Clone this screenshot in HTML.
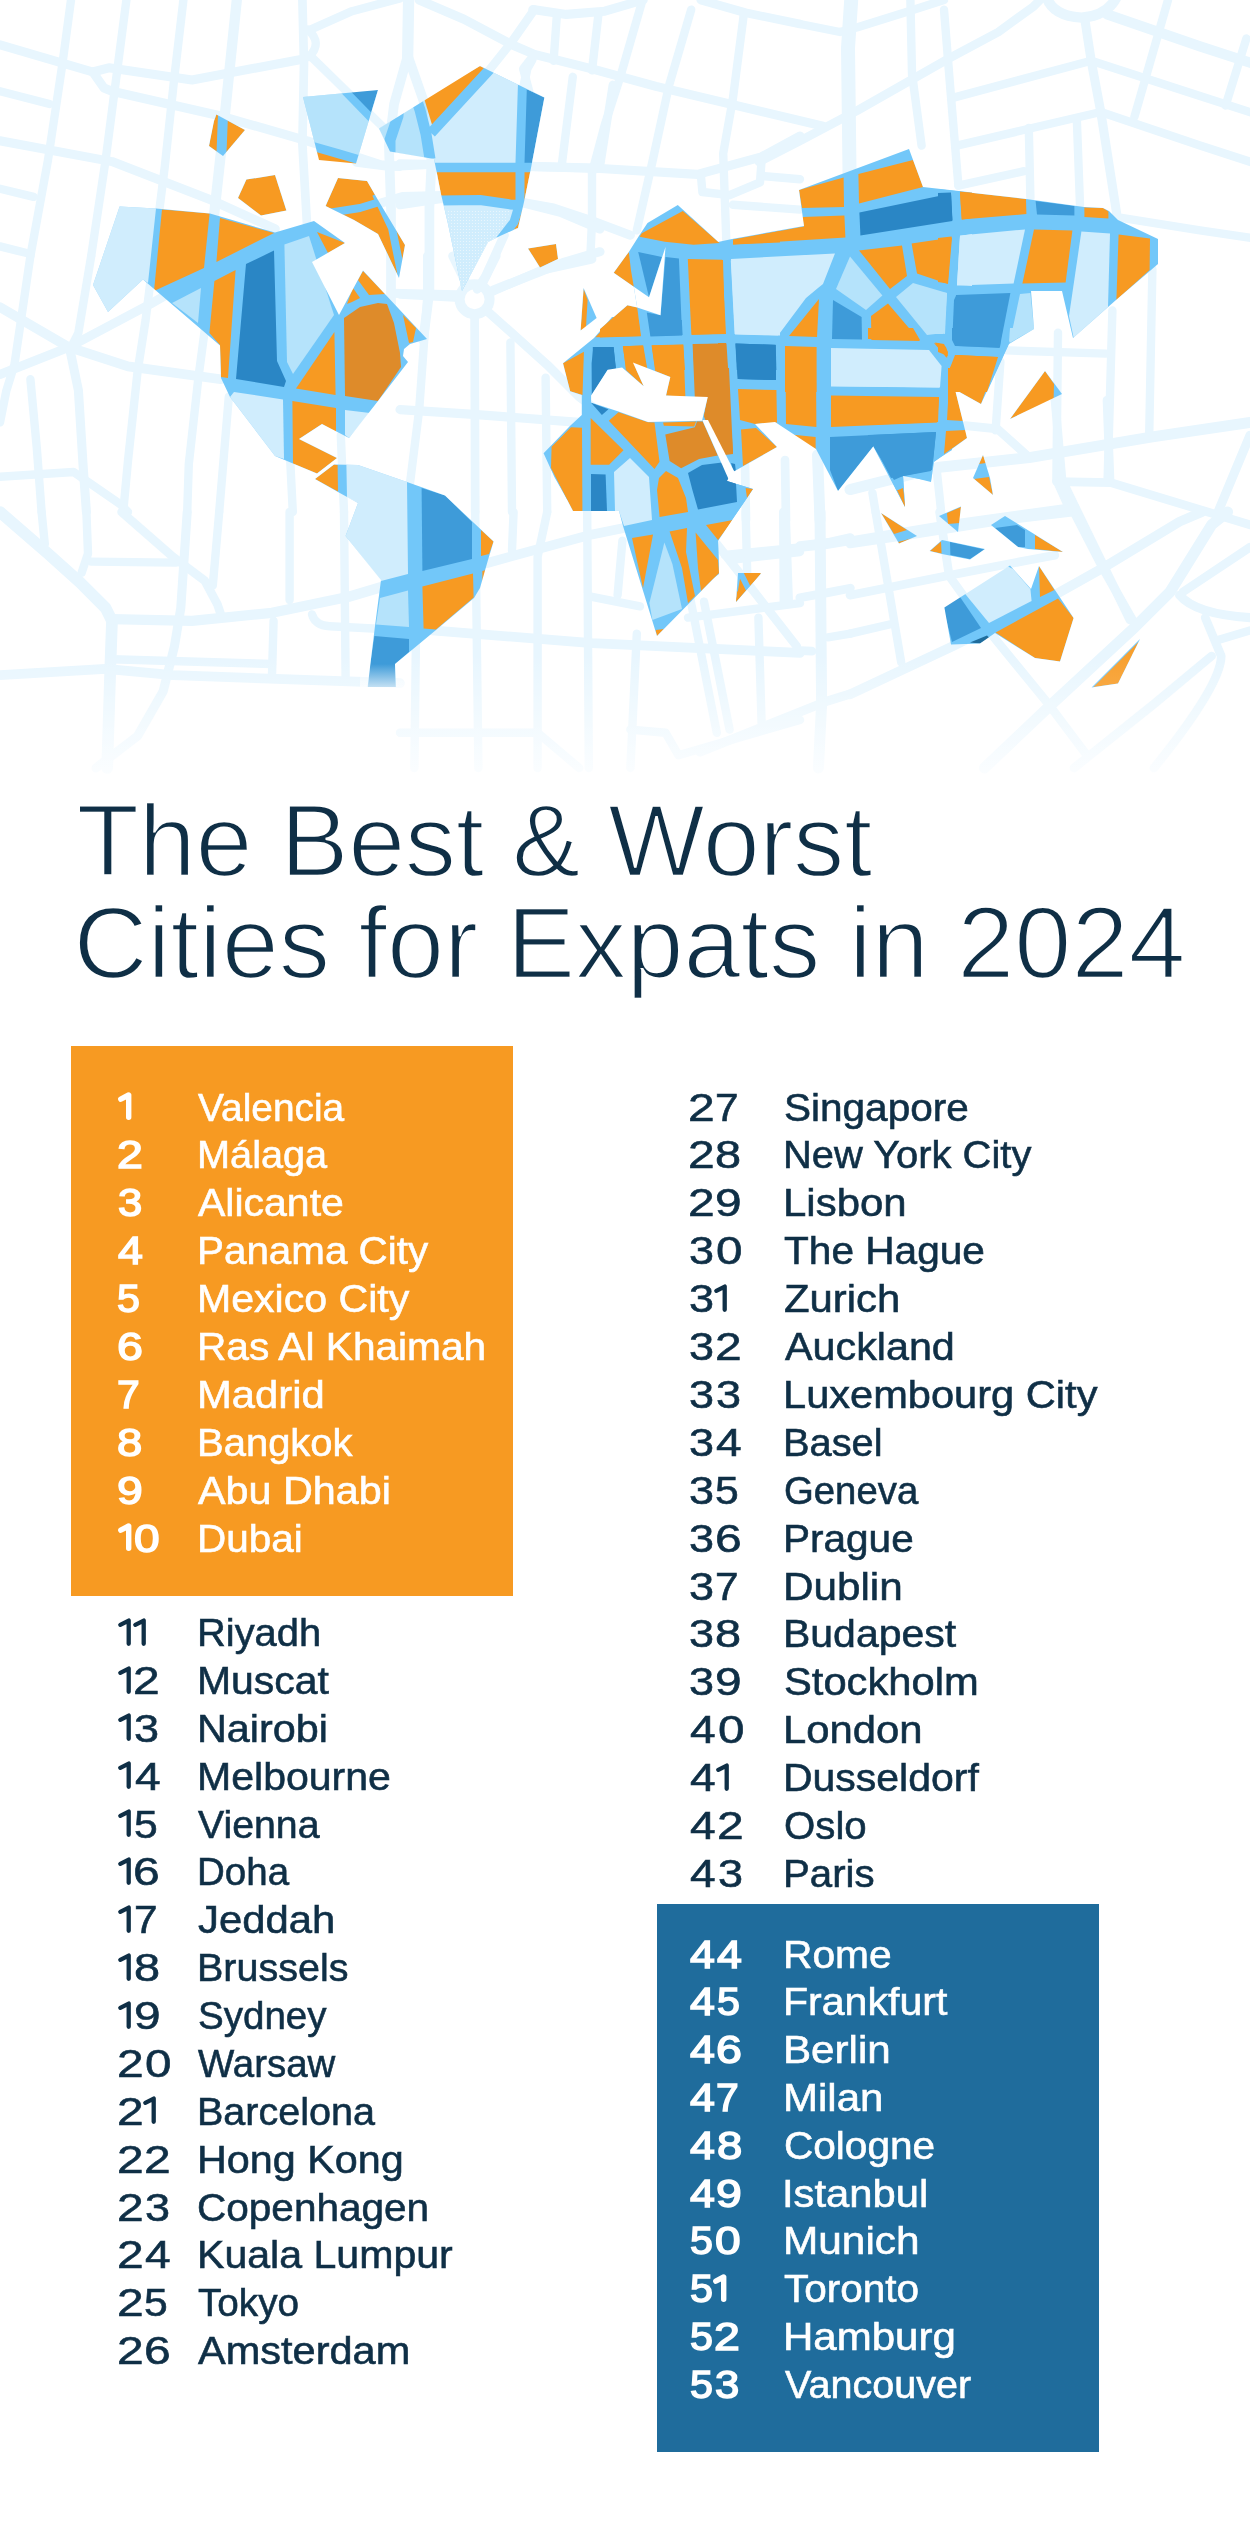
<!DOCTYPE html>
<html><head><meta charset="utf-8"><title>The Best &amp; Worst Cities for Expats in 2024</title>
<style>
html,body{margin:0;padding:0;background:#fff;}
body{width:1250px;height:2521px;position:relative;overflow:hidden;font-family:"Liberation Sans",sans-serif;}
#map{position:absolute;left:0;top:0;width:1250px;height:800px;}
#map svg{display:block}
.t{position:absolute;white-space:nowrap;font-size:102.6px;line-height:100px;color:#0f2f46;-webkit-text-stroke:2.4px #fff;transform-origin:0 0;}
.box{position:absolute;}
.r{position:absolute;left:0;width:1250px;height:48px;font-size:39.6px;line-height:48px;white-space:nowrap;}
.r span{position:absolute;top:0;transform-origin:0 0;display:block;}
.one{position:absolute;display:block;overflow:visible}
.d{color:#0f2f46;}
.w{color:#fff;}
.d .n,.d .c,.w .c{-webkit-text-stroke:0.6px currentColor;}
.w .n{-webkit-text-stroke:1.5px currentColor;}
</style></head><body>
<div id="map"><svg width="1250" height="800" viewBox="0 0 1250 800">
<defs>
<mask id="land" maskUnits="userSpaceOnUse" x="0" y="0" width="1250" height="800">
<g fill="#fff"><polygon points="379.0,128.6 480.0,66.0 544.4,97.6 531.0,168.0 524.0,202.0 518.0,228.0 500.0,236.0 488.0,242.0 462.0,291.0 448.0,224.0 441.0,194.0 434.0,159.0 390.0,151.6"/><polygon points="216.4,114.4 245.0,130.0 223.0,156.0 209.0,146.0 214.0,121.0"/><polygon points="303.0,97.0 378.0,90.0 356.0,163.4 319.0,160.0"/><polygon points="246.4,179.6 275.0,175.0 286.4,210.4 261.0,215.6 238.0,198.0"/><polygon points="338.0,178.0 367.0,181.0 378.0,200.0 405.0,245.0 399.0,278.0 378.0,234.0 354.0,220.0 325.6,206.0"/><polygon points="119.6,206.6 156.0,208.6 210.0,213.4 275.0,232.6 314.0,221.0 345.0,243.0 312.0,262.0 339.0,315.0 363.0,270.6 427.0,339.0 410.0,344.0 404.0,349.0 403.0,356.0 408.0,362.0 378.0,401.0 349.0,438.0 322.0,424.0 299.0,439.0 337.0,458.0 317.0,473.6 275.0,456.0 230.0,397.0 221.0,378.0 220.0,345.4 143.0,279.4 108.0,312.0 93.0,285.0"/><polygon points="315.0,479.0 334.0,464.4 358.0,465.0 407.0,482.0 445.0,495.6 493.6,541.6 488.0,560.0 480.0,588.0 474.0,598.0 436.0,630.0 395.0,664.0 396.0,687.0 367.6,687.0 375.0,626.0 381.0,580.0 345.6,536.0 358.0,503.0 338.0,492.0"/><polygon points="677.8,205.1 719.5,243.0 780.0,231.0 780.0,370.0 600.0,370.0 600.0,329.0 627.4,305.2 637.2,307.4 633.8,286.8 613.7,272.8 628.8,251.9 638.9,236.1 647.5,223.1"/><polygon points="594.0,338.0 612.0,317.1 720.0,317.1 720.0,500.0 567.4,500.0 554.4,477.0 543.6,453.2 570.2,425.8 581.8,415.0 581.8,394.9 570.2,391.3 563.0,363.2"/><polygon points="528.0,248.4 556.0,244.0 558.0,259.0 540.0,267.4"/><polygon points="583.6,288.0 596.6,318.0 580.6,330.4"/><polygon points="718.0,242.0 732.0,239.0 804.0,226.0 799.0,190.0 909.0,149.0 923.0,187.0 972.0,192.4 972.0,392.0 718.0,392.0"/><polygon points="938.0,189.0 1026.0,199.0 1084.0,207.0 1103.0,208.0 1109.0,211.0 1118.0,220.0 1158.0,239.0 1158.0,264.0 1116.0,300.0 1073.0,338.0 1062.0,291.0 1031.0,291.0 1034.0,329.0 1009.0,344.0 987.0,392.0 938.0,392.0"/><polygon points="698.0,368.0 952.0,368.0 952.0,450.0 933.0,462.0 931.0,482.0 903.0,475.0 905.0,507.0 874.0,445.6 838.0,491.0 816.0,449.0 775.0,422.0 755.0,424.0 777.0,447.0 733.0,472.0 704.4,416.4 708.0,397.0 698.0,396.0"/><polygon points="698.0,416.0 727.0,481.0 753.0,489.0 746.4,499.0 718.0,540.0 719.0,574.0 698.0,590.0"/><polygon points="741.0,573.0 761.0,573.6 736.0,602.0"/><polygon points="868.0,328.0 1016.0,328.0 1010.0,341.0 981.0,404.0 955.0,389.6 967.0,438.0 934.0,462.0 931.0,481.0 903.0,476.0 905.0,507.0 873.0,446.0 868.0,450.0"/><polygon points="1045.0,371.0 1062.0,394.0 1010.0,419.0"/><polygon points="983.0,455.0 990.0,478.0 993.0,495.0 973.0,478.0"/><polygon points="939.0,516.0 961.0,506.4 958.0,532.0"/><polygon points="881.0,513.0 917.0,536.0 899.0,543.6"/><polygon points="929.6,551.0 942.0,540.0 985.0,549.0 970.0,559.6 942.0,554.0"/><polygon points="991.0,525.0 1005.0,516.0 1063.0,552.0 1028.0,549.0 1018.0,547.0"/><polygon points="944.4,607.6 1010.0,565.6 1031.0,589.0 1039.0,566.0 1073.6,618.0 1060.0,661.6 1035.0,658.0 995.0,633.0 980.0,643.6 951.0,644.4"/><polygon points="1091.6,687.6 1140.0,639.0 1118.0,683.6"/><polygon points="562.0,438.0 750.0,438.0 727.0,481.0 753.0,489.0 718.0,541.0 719.0,573.0 657.0,636.0 623.0,526.0 619.0,511.0 573.0,511.0 550.0,467.0"/><polygon points="738.0,573.0 761.0,573.0 736.0,602.0"/></g>
<g fill="#000"><polygon points="665.5,246.9 660.5,315.3 637.2,307.4 633.8,286.8 649.0,297.3"/><polygon points="591.1,395.6 607.7,369.7 622.1,367.5 643.7,386.2 632.9,362.5 670.3,376.9 666.0,395.6 707.8,397.0 703.4,415.0 702.0,420.8 648.0,422.0 618.5,411.4 591.1,402.4"/><polygon points="702.3,420.0 708.0,420.0 734.5,472.0 737.0,484.0 728.5,479.0"/></g>
</mask>
<pattern id="dots" width="3" height="3" patternUnits="userSpaceOnUse"><rect width="3" height="3" fill="#d0edfd"/><circle cx="1.5" cy="1.5" r="0.6" fill="#eef8fe"/></pattern>
<linearGradient id="fade" x1="0" y1="0" x2="0" y2="1"><stop offset="0" stop-color="#fff" stop-opacity="0"/><stop offset="1" stop-color="#fff" stop-opacity="1"/></linearGradient>
<linearGradient id="fade2" x1="0" y1="0" x2="0" y2="1"><stop offset="0" stop-color="#fff" stop-opacity="0"/><stop offset="1" stop-color="#fff" stop-opacity="0.75"/></linearGradient>
<linearGradient id="fade3" x1="0" y1="0" x2="0" y2="1"><stop offset="0" stop-color="#fff" stop-opacity="0"/><stop offset="1" stop-color="#fff" stop-opacity="0.15"/></linearGradient>
</defs>
<rect width="1250" height="800" fill="#fff"/>
<g fill="none" stroke="#e8f6fe" stroke-linecap="round" stroke-linejoin="round"><path stroke-width="8.4" d="M 71.0,0.0 L 62.4,64.0 L 48.0,160.0 L 30.4,256.0"/><path stroke-width="8.4" d="M 126.4,0.0 L 116.8,73.6 L 105.6,160.0 L 91.2,256.0"/><path stroke-width="8.4" d="M 183.4,0.0 L 174.4,76.8 L 164.8,166.4 L 153.6,256.0"/><path stroke-width="10.3" d="M 236.8,0.0 L 228.8,76.8 L 220.8,153.6 L 209.6,256.0"/><path stroke-width="8.7" d="M 302.4,0.0 L 304.0,64.0 L 302.4,144.0 L 308.8,256.0"/><path stroke-width="9.1" d="M 0.0,44.8 L 92.8,72.0 L 108.8,67.8 L 192.0,80.0 L 302.4,59.2"/><path stroke-width="9.1" d="M 92.8,72.0 L 104.0,88.0 L 112.0,91.2 L 217.6,115.2 L 307.2,140.8 L 380.8,164.8 L 400.0,166.4"/><path stroke-width="8.4" d="M 308.8,30.4 L 352.0,11.2 L 400.0,-1.6"/><path stroke-width="8.4" d="M 312.0,57.6 L 384.0,128.0"/><path stroke-width="8.4" d="M 0.0,91.2 L 49.6,104.0"/><path stroke-width="9.1" d="M 0.0,140.8 L 112.0,161.6 L 211.2,200.0 L 275.2,228.8"/><path stroke-width="8.4" d="M 0.0,188.8 L 33.6,196.8"/><path stroke-width="8.4" d="M 0.0,246.4 L 25.6,252.8"/><path stroke-width="8.4" d="M 307.8,29.4 Q 323.2,43.2 308.8,57.0"/><path stroke-width="9.1" d="M 419.2,0.0 L 464.0,19.2 L 512.0,44.8 L 534.4,54.4 L 592.0,68.8 L 656.0,86.4 L 723.2,102.4 L 823.0,126.1"/><path stroke-width="9.1" d="M 532.8,9.6 L 566.4,14.4 L 604.8,11.2 L 643.2,0.0"/><path stroke-width="8.7" d="M 534.4,9.6 L 512.0,41.6 L 486.4,73.6 L 435.2,128.0"/><path stroke-width="8.4" d="M 556.8,16.0 L 553.6,60.8"/><path stroke-width="8.4" d="M 598.4,14.4 L 592.0,70.4"/><path stroke-width="8.4" d="M 641.6,3.2 L 620.8,75.2 L 604.8,124.8 L 592.0,172.8"/><path stroke-width="8.4" d="M 691.2,9.6 L 668.8,86.4 L 652.8,160.0 L 636.8,230.4"/><path stroke-width="8.4" d="M 744.0,12.8 L 732.8,99.2 L 723.2,153.6 L 726.4,243.2"/><path stroke-width="8.7" d="M 700.8,0.0 L 745.6,12.8 L 800.0,24.0"/><path stroke-width="8.4" d="M 529.6,92.8 L 523.2,68.8 L 534.4,54.4"/><path stroke-width="8.4" d="M 572.8,76.8 L 561.6,166.4"/><path stroke-width="8.4" d="M 612.8,84.8 L 600.0,166.4"/><path stroke-width="9.1" d="M 400.0,163.8 L 529.6,166.4 L 592.0,168.0 L 697.6,174.4 L 761.6,156.8 L 800.0,136.0"/><path stroke-width="8.4" d="M 700.8,174.4 L 702.4,192.0 L 729.6,195.2 L 760.0,182.4 L 761.6,160.0"/><path stroke-width="8.4" d="M 761.6,176.0 L 800.0,179.2"/><path stroke-width="9.1" d="M 400.0,204.8 L 441.6,198.4 L 508.8,200.0 L 553.6,208.0 L 592.0,220.8 L 630.4,235.2"/><path stroke-width="8.4" d="M 592.0,168.0 L 592.0,220.8 L 590.4,256.0"/><path stroke-width="8.4" d="M 732.8,204.8 L 800.0,209.6"/><path stroke-width="14.0" d="M 851.2,0.0 L 848.0,48.0 L 849.6,179.2"/><path stroke-width="8.4" d="M 910.4,0.0 L 912.0,73.6 L 921.6,145.6"/><path stroke-width="8.4" d="M 944.0,9.6 L 950.4,89.6 L 958.4,185.6"/><path stroke-width="8.7" d="M 759.0,161.9 L 800.0,140.8 L 857.6,110.4 L 950.4,57.6 L 998.4,32.0 L 1033.6,6.4 L 1040.0,0.0"/><path stroke-width="8.4" d="M 800.0,24.0 L 840.0,32.0 L 857.6,27.2 L 908.8,11.2 L 944.0,0.0"/><path stroke-width="10.3" d="M 1046.4,-3.2 Q 1052.8,16.0 1081.6,17.6 Q 1107.2,16.0 1116.8,-3.2"/><path stroke-width="9.1" d="M 1084.8,19.2 L 1091.2,60.8 L 1100.8,112.0 L 1116.8,214.4"/><path stroke-width="8.4" d="M 1091.2,60.8 L 953.6,97.6"/><path stroke-width="8.4" d="M 1091.2,60.8 L 1200.0,96.0 L 1254.4,113.6"/><path stroke-width="8.4" d="M 1100.8,112.0 L 956.8,145.6"/><path stroke-width="8.4" d="M 1100.8,112.0 L 1200.0,145.6 L 1254.4,163.2"/><path stroke-width="8.4" d="M 958.4,185.6 L 1024.0,171.2"/><path stroke-width="8.4" d="M 1028.8,128.0 L 1030.4,198.4"/><path stroke-width="8.4" d="M 1076.8,118.4 L 1080.0,204.8"/><path stroke-width="8.4" d="M 1168.0,0.0 L 1134.4,116.8"/><path stroke-width="10.3" d="M 1107.2,14.4 L 1200.0,46.4 L 1254.4,64.0"/><path stroke-width="8.4" d="M 1120.0,217.6 L 1200.0,230.4 L 1254.4,238.4"/><path stroke-width="8.4" d="M 1246.4,38.4 L 1225.6,105.6"/><path stroke-width="8.4" d="M 30.4,256.0 L 14.4,364.8 L 6.4,390.4 L 0.0,422.4"/><path stroke-width="8.4" d="M 91.2,256.0 L 78.4,332.8 L 70.4,348.8"/><path stroke-width="9.1" d="M 70.4,352.0 L 78.4,390.4 L 83.2,467.2 L 86.4,512.0"/><path stroke-width="8.4" d="M 153.6,256.0 L 145.6,320.0 L 137.6,371.2 L 128.0,460.8 L 123.2,512.0"/><path stroke-width="8.4" d="M 208.0,256.0 L 204.8,329.6 L 198.4,377.6 L 188.8,464.0 L 187.2,512.0"/><path stroke-width="8.4" d="M 228.8,396.8 L 224.0,454.4 L 219.2,512.0"/><path stroke-width="8.4" d="M 289.6,448.0 L 292.8,512.0"/><path stroke-width="8.4" d="M 340.8,435.2 L 344.0,512.0"/><path stroke-width="9.7" d="M 0.0,307.2 L 68.8,347.2 L 128.0,366.4 L 220.8,379.2"/><path stroke-width="9.1" d="M 0.0,374.4 L 68.8,347.2 L 150.4,304.0 L 172.8,291.2"/><path stroke-width="8.4" d="M 0.0,476.8 L 73.6,472.0 L 120.0,504.0 L 128.0,512.0"/><path stroke-width="8.4" d="M 30.4,379.2 L 36.8,448.0 L 41.6,512.0"/><path stroke-width="9.1" d="M 467.2,285.4 L 452.8,256.0"/><path stroke-width="9.1" d="M 481.6,284.8 L 496.0,256.0"/><path stroke-width="8.7" d="M 489.6,292.8 L 540.8,270.4 L 592.0,259.2"/><path stroke-width="8.7" d="M 459.2,297.6 L 400.0,294.4"/><path stroke-width="8.7" d="M 474.6,314.6 L 475.2,512.0"/><path stroke-width="9.1" d="M 486.4,310.4 L 547.2,364.8 L 579.2,396.8 L 592.0,406.4"/><path stroke-width="8.4" d="M 427.2,256.0 L 427.2,297.6 L 419.2,409.6 L 406.4,512.0"/><path stroke-width="8.4" d="M 510.4,342.4 L 512.0,512.0"/><path stroke-width="8.4" d="M 545.6,377.6 L 547.2,512.0"/><path stroke-width="9.1" d="M 400.0,409.6 L 473.6,414.4 L 579.2,422.4"/><path stroke-width="8.4" d="M 1152.4,268.8 L 1149.2,435.2"/><path stroke-width="8.4" d="M 1112.4,310.4 L 1107.6,480.0"/><path stroke-width="8.4" d="M 1058.0,332.8 L 1056.4,480.0 L 1070.8,512.0"/><path stroke-width="8.4" d="M 1006.8,350.4 L 1106.0,353.6"/><path stroke-width="11.0" d="M 850.0,489.6 L 939.6,467.2 L 1029.2,457.6 L 1152.4,436.8 L 1250.0,422.4"/><path stroke-width="8.7" d="M 965.2,425.6 L 997.2,428.8 L 1027.6,456.0"/><path stroke-width="8.7" d="M 1056.4,481.6 L 1110.8,482.6 L 1250.0,524.8"/><path stroke-width="9.1" d="M 1250.0,435.2 L 1218.0,512.0"/><path stroke-width="8.4" d="M 936.4,467.2 L 941.2,512.0"/><path stroke-width="8.4" d="M 1000.4,361.6 L 995.6,430.4"/><path stroke-width="8.4" d="M 872.4,492.8 L 875.6,512.0"/><path stroke-width="11.7" d="M 0.0,512.0 L 48.0,553.6 L 80.0,582.4 L 105.6,608.0 L 112.0,620.8 L 110.4,665.6 L 107.2,768.0"/><path stroke-width="8.4" d="M 41.6,512.0 L 44.8,544.0"/><path stroke-width="8.4" d="M 86.4,512.0 L 88.0,553.6 L 81.6,572.8"/><path stroke-width="8.4" d="M 91.2,561.6 L 176.0,562.6"/><path stroke-width="8.7" d="M 121.6,512.0 L 172.8,556.8 L 204.8,580.8 L 217.6,604.8 L 220.8,614.4"/><path stroke-width="9.1" d="M 187.2,512.0 L 180.8,608.0 L 174.4,646.4 L 163.2,691.2 L 137.6,736.0 L 96.0,768.0"/><path stroke-width="8.4" d="M 219.2,512.0 L 212.8,585.6"/><path stroke-width="10.3" d="M 112.0,619.2 L 192.0,620.8 L 272.0,612.8 L 348.8,596.8 L 380.8,587.2"/><path stroke-width="8.4" d="M 289.6,512.0 L 289.6,600.0"/><path stroke-width="8.4" d="M 344.0,512.0 L 345.6,678.4"/><path stroke-width="8.4" d="M 312.0,614.4 Q 315.2,625.6 329.6,626.2 L 377.6,628.8"/><path stroke-width="8.4" d="M 273.6,620.8 L 272.0,675.2"/><path stroke-width="8.4" d="M 112.0,659.2 L 272.0,664.0"/><path stroke-width="9.7" d="M 0.0,675.2 L 105.6,668.8 L 172.8,675.2 L 400.0,683.2"/><path stroke-width="8.4" d="M 416.0,633.6 L 414.4,768.0"/><path stroke-width="8.4" d="M 475.2,512.0 L 478.4,768.0"/><path stroke-width="8.4" d="M 513.6,512.0 L 512.0,550.4"/><path stroke-width="8.4" d="M 547.2,512.0 L 537.6,556.8 L 537.6,768.0"/><path stroke-width="8.4" d="M 587.2,512.0 L 588.8,768.0"/><path stroke-width="8.4" d="M 622.4,540.8 L 617.6,595.2"/><path stroke-width="8.4" d="M 636.8,633.6 L 630.4,768.0"/><path stroke-width="8.4" d="M 689.6,595.2 L 716.8,732.8"/><path stroke-width="8.4" d="M 704.0,601.6 L 729.6,729.6"/><path stroke-width="8.4" d="M 758.4,617.6 L 761.6,723.2"/><path stroke-width="8.4" d="M 745.6,512.0 L 747.2,572.8"/><path stroke-width="8.4" d="M 785.6,512.0 L 788.8,601.6"/><path stroke-width="9.7" d="M 486.4,563.2 L 592.0,534.4 L 624.0,528.0"/><path stroke-width="9.7" d="M 432.0,630.4 L 592.0,643.2 L 800.0,652.8"/><path stroke-width="8.4" d="M 592.0,596.8 L 640.0,606.4"/><path stroke-width="8.4" d="M 688.0,617.6 L 800.0,603.2"/><path stroke-width="8.4" d="M 729.6,560.0 L 800.0,552.0"/><path stroke-width="8.7" d="M 716.8,544.0 L 796.8,646.4"/><path stroke-width="8.4" d="M 400.0,732.8 L 537.6,732.8 L 579.2,768.0"/><path stroke-width="8.4" d="M 630.4,729.6 L 665.6,732.8 L 678.4,755.2 L 800.0,720.0"/><path stroke-width="8.4" d="M 875.6,512.0 L 901.2,662.4"/><path stroke-width="8.7" d="M 850.0,544.0 L 914.0,534.4 L 994.0,521.6 L 1074.0,512.0"/><path stroke-width="8.7" d="M 850.0,595.2 L 946.0,576.0 L 1029.2,560.0 L 1054.8,555.2"/><path stroke-width="8.4" d="M 850.0,633.6 L 891.6,624.0"/><path stroke-width="8.7" d="M 939.6,512.0 L 949.2,576.0 L 990.8,633.6 L 1048.4,704.0 L 1086.8,755.2"/><path stroke-width="9.7" d="M 850.0,694.4 L 952.4,646.4 L 1048.4,598.4 L 1102.8,568.0 L 1179.6,521.6 L 1202.0,512.0"/><path stroke-width="8.7" d="M 1074.0,512.0 L 1102.8,568.0 L 1134.8,624.0"/><path stroke-width="11.0" d="M 984.4,768.0 L 1048.4,707.2 L 1134.8,627.2 L 1170.0,592.0 L 1211.6,524.8 L 1227.6,512.0"/><path stroke-width="9.1" d="M 1179.6,595.2 Q 1195.6,614.4 1250.0,617.6"/><path stroke-width="8.7" d="M 1182.8,592.0 L 1250.0,547.2"/><path stroke-width="8.7" d="M 1205.2,617.6 L 1221.2,656.0 Q 1221.2,684.8 1154.0,768.0"/><path stroke-width="8.7" d="M 1074.0,768.0 L 1154.0,704.0 L 1211.6,656.0"/><path stroke-width="8.4" d="M 1218.0,640.0 L 1250.0,630.4"/><path stroke-width="11.3" d="M 408.6,0.0 L 407.6,60.3"/><path stroke-width="9.7" d="M 407.0,58.2 L 394.1,104.0 L 388.9,145.6 L 391.0,208.0 L 391.0,340.1"/><path stroke-width="9.7" d="M 408.6,58.2 L 423.2,99.8 L 429.4,129.0 L 431.5,162.2 L 429.4,208.0 L 429.4,291.2 L 423.2,340.1"/><path stroke-width="9.1" d="M 356.6,162.2 L 389.9,166.4 L 433.6,164.3"/><path stroke-width="9.1" d="M 528.2,166.4 L 600.0,168.5"/><path stroke-width="9.1" d="M 381.6,202.8 L 402.4,196.6 L 441.9,195.5"/><path stroke-width="9.4" d="M 521.0,202.2 L 560.5,212.2 L 600.0,228.8"/><path stroke-width="9.1" d="M 504.3,235.0 L 485.6,276.6 L 477.3,289.1"/><path stroke-width="9.1" d="M 492.9,290.2 L 564.6,262.1 L 600.0,251.7"/><path stroke-width="9.1" d="M 392.0,293.3 L 456.5,294.9"/><path stroke-width="8.7" d="M 523.0,89.4 L 527.2,68.6 L 532.4,59.3"/><path stroke-width="8.7" d="M 745.0,465.0 L 746.0,520.0"/><path stroke-width="8.7" d="M 785.0,460.0 L 786.0,520.0"/><path stroke-width="11.0" d="M 817.5,455.0 L 820.0,520.0"/><path stroke-width="8.7" d="M 1055.0,400.0 L 1062.0,480.0 L 1130.0,620.0"/><path stroke-width="8.7" d="M 1107.0,400.0 L 1110.0,480.0"/><path stroke-width="8.7" d="M 725.0,555.0 L 825.0,545.0 L 945.0,525.0 L 1075.0,507.0"/><path stroke-width="11.0" d="M 820.0,512.0 L 821.6,704.0 L 818.4,768.0"/><path stroke-width="8.4" d="M 783.2,512.0 L 783.8,604.8"/><path stroke-width="8.7" d="M 799.8,545.6 L 828.0,542.4 L 850.4,537.6"/><path stroke-width="8.7" d="M 799.8,597.8 L 828.0,592.6 L 850.4,588.2"/><path stroke-width="8.4" d="M 828.0,637.4 L 850.4,633.6"/><path stroke-width="8.7" d="M 799.8,650.6 L 812.0,651.2"/><path stroke-width="9.1" d="M 700.0,752.0 L 828.0,700.8 L 850.4,693.8"/><circle cx="474.6" cy="299.2" r="15" stroke-width="10"/></g>
<rect x="0" y="655" width="1250" height="145" fill="url(#fade)"/>
<g mask="url(#land)">
<rect width="1250" height="800" fill="#72c7f9"/>
<polygon fill="#d0edfd" points="379.0,128.6 480.0,66.0 544.4,97.6 531.0,168.0 524.0,202.0 518.0,228.0 500.0,236.0 488.0,242.0 462.0,291.0 448.0,224.0 441.0,194.0 434.0,159.0 390.0,151.6"/><polygon fill="#b5e3fb" points="379.0,128.6 427.0,97.6 428.0,159.0 390.0,151.6"/><polygon fill="#f79a22" points="424.0,98.0 480.0,66.0 488.0,70.0 433.0,128.0"/><polygon fill="#3e9bd9" points="522.0,87.0 544.4,97.6 531.0,168.0 522.0,168.0"/><polygon fill="#f79a22" points="436.0,168.0 520.0,168.0 520.0,200.0 442.0,200.0"/><polygon fill="#f79a22" points="520.0,168.0 531.0,168.0 524.0,202.0 518.0,228.0 512.0,230.0 520.0,202.0"/><polygon fill="#f79a22" points="216.4,114.4 245.0,130.0 223.0,156.0 209.0,146.0 214.0,121.0"/><polygon fill="#b5e3fb" points="303.0,97.0 378.0,90.0 356.0,163.4 319.0,160.0"/><polygon fill="#3e9bd9" points="348.0,91.0 378.0,90.0 370.0,116.0"/><polygon fill="#f79a22" points="315.0,148.0 358.0,162.0 356.0,166.0 318.0,162.0"/><polygon fill="#f79a22" points="246.4,179.6 275.0,175.0 286.4,210.4 261.0,215.6 238.0,198.0"/><polygon fill="#f79a22" points="338.0,178.0 367.0,181.0 378.0,200.0 405.0,245.0 399.0,278.0 378.0,234.0 354.0,220.0 325.6,206.0"/><polygon fill="#d0edfd" points="119.6,206.6 156.0,208.6 148.0,283.0 143.0,279.4 108.0,312.0 93.0,285.0"/><polygon fill="#f79a22" points="162.0,209.4 209.6,213.4 204.0,268.0 154.0,291.0"/><polygon fill="#f79a22" points="220.0,218.0 274.0,233.0 216.4,262.0"/><polygon fill="#b5e3fb" points="172.0,303.0 201.0,288.0 198.0,323.0"/><polygon fill="#f79a22" points="214.4,281.0 235.6,270.0 228.0,378.0 221.0,377.0 220.0,345.0 209.4,333.0"/><polygon fill="#2a86c5" points="246.0,264.0 274.0,250.6 277.0,361.0 286.0,381.0 284.0,387.0 236.0,379.0"/><polygon fill="#b5e3fb" points="284.4,244.6 309.0,236.0 334.0,315.0 293.0,374.0 287.0,362.0"/><polygon fill="#f79a22" points="317.0,232.0 345.0,243.0 328.0,253.0"/><polygon fill="#f79a22" points="296.0,388.6 334.4,332.0 335.6,395.0"/><polygon fill="#d0edfd" points="234.0,392.0 283.0,399.4 284.0,459.0 275.0,456.0 230.0,397.0"/><polygon fill="#f79a22" points="292.4,401.0 336.0,408.0 336.0,432.0 322.0,424.0 299.0,439.0 337.0,458.0 317.0,473.6 293.0,463.6"/><polygon fill="#d0edfd" points="345.0,410.0 370.0,413.0 349.0,438.0 345.0,435.0"/><polygon fill="#de8b2a" points="344.0,318.0 360.0,307.0 378.0,303.0 387.0,304.0 394.0,323.0 400.0,353.0 401.0,367.0 378.0,401.0 345.0,396.0"/><polygon fill="#f79a22" points="363.0,271.0 385.0,294.0 369.0,295.0 358.0,280.0"/><polygon fill="#f79a22" points="347.0,304.0 353.0,288.0 360.0,298.0 352.0,302.0"/><polygon fill="#f79a22" points="403.0,315.0 416.0,328.0 413.0,342.0 409.0,343.0"/><polygon fill="#f79a22" points="315.0,479.0 334.0,464.4 337.6,465.0 338.0,491.6"/><polygon fill="#d0edfd" points="346.4,465.0 358.0,465.0 407.0,482.0 408.0,574.0 381.0,581.0 345.6,536.0 358.0,503.0 347.0,497.6"/><polygon fill="#3e9bd9" points="421.6,488.0 445.0,495.6 472.0,522.0 472.0,559.0 422.4,571.0"/><polygon fill="#f79a22" points="481.0,530.0 493.6,541.6 489.0,554.0 481.0,556.0"/><polygon fill="#f79a22" points="482.4,571.0 486.0,570.0 482.4,583.0"/><polygon fill="#b5e3fb" points="380.0,598.0 408.0,590.4 409.0,627.0 376.0,624.4"/><polygon fill="#f79a22" points="422.4,586.4 473.0,573.6 473.6,597.6 436.0,629.6 423.6,628.6"/><polygon fill="#3e9bd9" points="374.4,636.0 409.0,639.0 409.0,652.0 395.0,664.0 395.6,687.0 368.0,687.0 370.0,666.0"/><polygon fill="#f79a22" points="641.8,233.2 682.8,210.9 719.5,243.0 693.6,244.7 664.8,241.8 639.6,236.8"/><polygon fill="#f79a22" points="733.2,240.4 780.0,231.0 780.0,242.6 733.2,244.4"/><polygon fill="#f79a22" points="628.8,251.9 613.7,272.8 633.8,286.8 631.0,270.6"/><polygon fill="#3e9bd9" points="638.2,251.9 661.9,257.0 649.0,297.3"/><polygon fill="#3e9bd9" points="665.5,257.0 678.9,258.4 682.1,335.4 650.4,336.6 646.8,312.4 660.5,315.3"/><polygon fill="#f79a22" points="687.8,259.1 722.1,259.8 726.0,334.0 691.4,334.7"/><polygon fill="#d0edfd" points="730.8,260.6 780.0,257.7 780.0,335.4 734.6,334.0"/><polygon fill="#2a86c5" points="592.8,347.0 613.7,347.0 615.8,370.0 592.8,370.0"/><polygon fill="#f79a22" points="623.0,346.2 643.2,345.5 647.5,370.0 625.9,370.0"/><polygon fill="#f79a22" points="651.8,345.2 683.2,344.4 685.0,370.0 655.4,370.0"/><polygon fill="#de8b2a" points="692.9,344.1 726.4,343.4 728.2,370.0 694.3,370.0"/><polygon fill="#2a86c5" points="735.4,343.4 775.7,344.8 776.4,370.0 736.8,370.0"/><polygon fill="#f79a22" points="600.0,329.0 627.4,305.2 637.2,307.4 641.0,336.2 600.0,337.6"/><polygon fill="#f79a22" points="595.4,337.3 612.0,320.0 638.6,320.0 640.5,336.1"/><polygon fill="#3e9bd9" points="648.7,320.0 681.8,320.0 682.6,335.1 650.9,336.1"/><polygon fill="#f79a22" points="691.9,320.0 720.0,320.0 720.0,333.7 691.9,334.7"/><polygon fill="#f79a22" points="563.0,363.2 583.9,351.7 582.5,394.9 570.2,391.3"/><polygon fill="#2a86c5" points="593.3,347.4 613.4,347.1 616.0,368.2 607.7,369.7 591.8,394.9 591.6,363.2"/><polygon fill="#f79a22" points="622.8,346.2 643.0,345.6 645.8,367.5 632.9,362.5 643.7,386.2 626.4,370.4"/><polygon fill="#f79a22" points="651.6,345.6 683.3,344.8 685.4,397.0 666.0,395.6 670.3,376.9 655.2,371.1"/><polygon fill="#de8b2a" points="692.6,344.2 720.0,343.8 720.0,446.7 704.2,415.0 707.8,397.3 694.8,397.0"/><polygon fill="#2a86c5" points="591.1,402.8 608.4,409.3 601.9,415.0"/><polygon fill="#f79a22" points="590.7,417.9 623.5,450.3 609.1,464.7 590.7,464.7"/><polygon fill="#f79a22" points="608.8,420.8 618.5,412.2 648.0,422.2 654.5,422.5 659.5,461.8 654.5,469.0"/><polygon fill="#de8b2a" points="665.3,434.5 694.8,427.3 697.0,421.5 702.7,421.5 717.8,455.4 699.1,459.0 681.1,468.3 669.6,461.1"/><polygon fill="#f79a22" points="663.1,422.5 696.2,421.5 694.1,426.6 663.8,425.8"/><polygon fill="#f79a22" points="528.0,248.4 556.0,244.0 558.0,259.0 540.0,267.4"/><polygon fill="#f79a22" points="583.6,289.0 587.6,300.0 586.0,327.0 580.6,330.4"/><polygon fill="#f79a22" points="799.0,190.0 843.6,177.6 844.0,207.0 802.0,208.0"/><polygon fill="#f79a22" points="733.0,239.6 804.0,226.4 802.4,217.0 844.4,215.6 845.4,237.6 733.0,244.4"/><polygon fill="#f79a22" points="858.4,174.0 913.0,160.0 923.0,187.0 859.0,203.6"/><polygon fill="#2a86c5" points="859.4,212.4 951.0,193.6 952.4,221.0 860.4,235.6"/><polygon fill="#f79a22" points="960.0,193.0 972.0,192.4 972.0,218.0 962.0,219.6"/><polygon fill="#d0edfd" points="731.0,259.0 835.0,253.4 823.0,284.0 818.0,288.0 806.0,298.0 778.0,335.6 735.0,334.4"/><polygon fill="#b5e3fb" points="850.0,256.4 882.4,295.6 866.0,310.0 836.0,289.0"/><polygon fill="#f79a22" points="859.0,250.4 902.0,245.4 907.0,276.0 890.0,289.0"/><polygon fill="#f79a22" points="911.6,243.6 952.0,237.4 948.0,284.0 917.0,273.6"/><polygon fill="#b5e3fb" points="913.0,283.0 947.0,293.0 944.0,333.0 927.0,335.0 896.0,297.0"/><polygon fill="#d0edfd" points="960.0,236.0 972.0,234.0 972.0,286.0 957.0,285.0"/><polygon fill="#3e9bd9" points="956.0,295.0 972.0,295.0 972.0,346.0 953.0,342.0"/><polygon fill="#f79a22" points="789.0,336.0 819.0,299.0 817.0,337.0"/><polygon fill="#3e9bd9" points="833.0,300.0 861.6,317.0 862.0,339.6 832.0,339.0"/><polygon fill="#f79a22" points="888.0,303.6 920.0,341.0 871.4,340.0 871.0,316.0"/><polygon fill="#f79a22" points="935.0,342.4 944.0,344.0 948.0,352.0 947.0,358.0"/><polygon fill="#2a86c5" points="735.6,343.6 775.6,345.0 776.0,380.0 738.0,379.0"/><polygon fill="#f79a22" points="785.0,346.0 816.6,347.0 816.6,392.0 785.0,392.0"/><polygon fill="#d0edfd" points="831.0,348.0 929.0,350.0 941.6,366.0 940.0,387.6 831.0,386.4"/><polygon fill="#f79a22" points="718.0,260.0 723.0,260.0 725.0,334.0 718.0,334.0"/><polygon fill="#de8b2a" points="718.0,343.0 726.0,343.0 728.0,392.0 718.0,392.0"/><polygon fill="#f79a22" points="957.0,355.0 972.0,357.0 972.0,392.0 950.0,392.0 951.0,368.0"/><polygon fill="#2a86c5" points="938.0,193.0 951.0,192.4 952.4,220.0 938.0,222.0"/><polygon fill="#f79a22" points="960.0,191.6 1026.0,199.0 1026.4,214.0 961.6,219.6"/><polygon fill="#3e9bd9" points="1035.6,201.0 1074.4,206.0 1074.4,215.6 1037.0,214.4"/><polygon fill="#f79a22" points="1084.4,207.4 1103.0,208.0 1108.4,211.6 1108.4,218.4 1084.4,217.0"/><polygon fill="#f79a22" points="938.0,238.0 951.6,236.4 947.6,283.6 938.0,282.0"/><polygon fill="#d0edfd" points="960.0,235.6 1025.0,229.4 1013.6,283.6 957.0,285.6"/><polygon fill="#f79a22" points="1034.0,229.4 1072.4,230.4 1065.6,282.4 1022.4,283.6"/><polygon fill="#d0edfd" points="1081.4,231.6 1110.0,233.4 1108.0,307.0 1073.6,337.6 1069.0,316.0"/><polygon fill="#f79a22" points="1118.6,234.4 1150.0,238.4 1149.6,270.0 1116.4,300.0"/><polygon fill="#3e9bd9" points="956.4,295.0 1010.4,293.0 999.6,348.0 958.0,346.0 952.4,338.0 954.0,300.0"/><polygon fill="#b5e3fb" points="1020.0,294.0 1030.4,293.0 1034.0,329.0 1009.6,343.0"/><polygon fill="#b5e3fb" points="938.0,292.0 947.0,293.0 945.0,334.0 938.0,333.0"/><polygon fill="#f79a22" points="938.0,343.0 946.0,347.0 948.0,356.0 938.0,352.0"/><polygon fill="#f79a22" points="955.0,355.0 998.0,357.0 987.0,392.0 949.0,392.0 950.0,368.0"/><polygon fill="#de8b2a" points="698.0,368.0 729.0,368.0 733.0,453.0 719.0,455.6 704.0,416.4 707.6,397.0 698.0,396.0"/><polygon fill="#2a86c5" points="737.0,368.0 776.0,368.0 776.0,380.0 737.6,379.0"/><polygon fill="#f79a22" points="738.0,389.0 776.4,390.0 777.0,422.4 755.0,424.0 740.0,420.0"/><polygon fill="#f79a22" points="785.6,368.0 816.0,368.0 816.4,427.0 786.0,424.0"/><polygon fill="#d0edfd" points="831.0,368.0 940.0,368.0 939.0,387.6 831.0,386.0"/><polygon fill="#f79a22" points="831.0,395.6 939.0,397.0 937.0,422.4 831.0,427.0"/><polygon fill="#f79a22" points="948.0,368.0 952.0,368.0 952.0,420.0 948.0,420.0"/><polygon fill="#f79a22" points="741.0,429.6 756.0,428.0 777.0,447.0 743.0,466.0"/><polygon fill="#f79a22" points="786.0,434.0 815.6,437.0 815.6,449.0"/><polygon fill="#3e9bd9" points="830.0,437.0 936.0,432.0 933.0,462.0 931.0,471.0 904.0,476.0 891.0,478.0 874.0,445.6 838.0,491.0 830.0,470.0"/><polygon fill="#f79a22" points="745.6,488.0 753.0,489.0 747.0,498.0"/><polygon fill="#f79a22" points="706.0,525.0 733.0,520.0 718.0,540.0"/><polygon fill="#f79a22" points="741.0,573.0 761.0,573.6 736.0,602.0"/><polygon fill="#f79a22" points="897.0,490.0 903.0,490.0 905.0,507.0"/><polygon fill="#f79a22" points="868.0,328.0 913.0,328.0 920.0,340.0 868.0,339.0"/><polygon fill="#b5e3fb" points="924.0,328.0 944.0,328.0 943.0,334.0 928.0,334.0"/><polygon fill="#f79a22" points="934.0,343.0 943.0,345.0 947.0,351.0 946.0,357.0"/><polygon fill="#3e9bd9" points="952.0,328.0 1002.0,328.0 1000.0,347.0 955.0,346.0 952.0,340.0"/><polygon fill="#b5e3fb" points="1010.0,328.0 1030.0,328.0 1009.0,342.0"/><polygon fill="#d0edfd" points="868.0,350.0 928.0,351.0 940.4,366.0 939.6,387.0 868.0,386.0"/><polygon fill="#f79a22" points="868.0,397.0 939.0,397.0 938.0,422.0 868.0,425.0"/><polygon fill="#f79a22" points="957.4,355.0 997.4,357.0 981.0,404.0 955.0,389.6 963.0,421.0 947.0,420.0 950.0,368.0"/><polygon fill="#f79a22" points="946.0,431.0 965.6,430.0 967.0,438.0 944.0,454.0"/><polygon fill="#3e9bd9" points="868.0,435.0 936.0,432.0 932.0,470.0 903.0,476.0 894.0,480.0 873.0,446.0 868.0,448.0"/><polygon fill="#f79a22" points="898.0,490.0 903.0,488.0 905.0,507.0"/><polygon fill="#f79a22" points="1045.0,371.0 1054.0,384.0 1053.6,399.0 1010.0,419.0"/><polygon fill="#f79a22" points="983.0,455.0 986.0,463.0 979.0,464.0"/><polygon fill="#f79a22" points="974.0,479.0 989.0,477.0 993.0,495.0"/><polygon fill="#f79a22" points="947.0,513.0 961.0,507.0 959.6,523.0 948.0,524.0"/><polygon fill="#f79a22" points="881.0,513.0 907.0,530.0 894.0,534.0"/><polygon fill="#f79a22" points="898.0,542.0 913.0,538.0 899.0,543.6"/><polygon fill="#f79a22" points="930.0,551.0 941.0,541.6 941.6,553.6"/><polygon fill="#3e9bd9" points="950.0,542.0 984.4,549.4 970.0,559.0 950.4,555.0"/><polygon fill="#3e9bd9" points="995.0,528.0 1017.0,525.0 1025.0,530.0 1025.0,547.0 1018.0,547.0"/><polygon fill="#f79a22" points="1035.0,535.0 1063.0,552.0 1035.0,549.0"/><polygon fill="#3e9bd9" points="943.0,607.0 960.0,597.0 981.0,628.0 952.0,642.0"/><polygon fill="#1f6c9c" points="970.0,642.4 987.0,635.6 989.6,638.0 980.0,643.6"/><polygon fill="#d0edfd" points="964.4,593.0 1000.0,570.0 1008.0,566.4 1013.0,569.0 1030.4,589.0 1031.6,601.0 989.0,623.0"/><polygon fill="#f79a22" points="1039.0,566.0 1054.4,590.0 1040.0,597.0"/><polygon fill="#f79a22" points="995.6,632.4 1058.0,598.4 1073.6,618.0 1060.0,661.6 1035.0,658.0"/><polygon fill="#f79a22" points="1093.6,687.0 1139.0,641.6 1118.0,683.6"/><polygon fill="#f79a22" points="551.6,446.8 571.0,427.2 582.0,427.8 582.4,511.0 573.0,511.0 551.0,468.0"/><polygon fill="#2a86c5" points="591.0,474.0 605.6,474.4 607.0,511.0 591.0,511.0"/><polygon fill="#d0edfd" points="614.0,472.0 630.0,458.0 649.0,477.0 652.0,520.0 624.0,526.0 619.0,511.0 615.0,511.0"/><polygon fill="#f79a22" points="657.0,490.0 659.0,478.0 666.0,471.0 678.0,478.0 686.0,498.0 688.0,512.0 659.6,517.0"/><polygon fill="#2a86c5" points="688.0,473.0 702.0,465.0 722.0,462.4 730.0,480.0 736.0,483.0 737.0,502.0 698.0,509.6 692.4,490.0"/><polygon fill="#de8b2a" points="718.0,438.0 732.0,438.0 733.0,454.0 725.0,455.0"/><polygon fill="#2a86c5" points="731.0,463.0 735.0,464.0 736.0,472.0 733.0,470.0"/><polygon fill="#f79a22" points="632.0,538.0 653.0,534.6 643.0,588.0"/><polygon fill="#b5e3fb" points="664.4,542.4 672.4,564.0 682.0,609.0 652.4,620.0 649.4,603.0"/><polygon fill="#f79a22" points="669.6,531.6 687.0,528.0 686.0,552.0 695.0,596.0 688.0,603.0 682.0,568.0"/><polygon fill="#f79a22" points="695.6,532.4 718.0,560.0 719.0,573.0 701.0,591.0 698.0,568.0"/><polygon fill="#f79a22" points="655.6,630.0 664.0,629.0 657.0,636.0"/><polygon fill="#f79a22" points="742.0,573.0 761.0,573.0 749.0,587.0"/><polygon fill="#f79a22" points="737.0,591.0 741.0,595.0 736.0,601.6"/>
<polygon fill="url(#dots)" points="446.0,209.0 510.0,211.0 500.0,236.0 488.0,242.0 462.0,290.0"/>
<g fill="none" stroke="#72c7f9" stroke-linecap="butt" stroke-linejoin="round"><path stroke-width="11" d="M 407.0,50.0 L 411.0,84.0 L 420.0,110.0 L 426.0,134.0 L 430.0,159.0"/><path stroke-width="11" d="M 402.0,50.0 L 398.0,116.0 L 390.0,140.0 L 390.0,162.0"/><path stroke-width="10.5" d="M 431.0,133.0 L 490.0,69.0 L 518.0,40.0"/><path stroke-width="9" d="M 534.0,56.0 L 522.4,86.0 L 520.0,163.0 L 520.0,202.0 L 514.0,222.0 L 500.0,240.0"/><path stroke-width="9.5" d="M 426.0,167.6 L 532.0,167.6"/><path stroke-width="10" d="M 440.0,200.4 L 480.0,200.0 L 510.0,204.4 L 528.0,205.6"/><path stroke-width="10" d="M 223.2,110.0 L 221.2,160.0"/><path stroke-width="8" d="M 340.0,86.0 L 374.0,121.0"/><path stroke-width="9" d="M 308.0,145.0 L 338.0,153.6 L 360.0,160.0"/><path stroke-width="8" d="M 328.0,213.0 L 360.0,208.0 L 386.0,200.0"/><path stroke-width="8" d="M 376.0,194.0 L 392.0,228.0 L 401.0,272.0 L 402.0,284.0"/><path stroke-width="6" d="M 739.0,570.0 L 750.0,592.0"/></g>
</g>
<rect x="360" y="664" width="50" height="25" fill="url(#fade2)"/>
<polygon points="1085,690 1145,630 1145,690" fill="url(#fade3)"/>
</svg></div>
<div class="t" id="t1" style="left:76.5px;top:790.5px;letter-spacing:-0.4px">The Best &amp; Worst</div>
<div class="t" id="t2" style="left:73.5px;top:893.3px">Cities for Expats in 2024</div>
<div class="box" style="left:71px;top:1046px;width:442px;height:549.5px;background:#f79a22"></div>
<div class="box" style="left:657px;top:1903.5px;width:442px;height:548.5px;background:#1f6c9c"></div>
<div class="r w" style="top:1082.5px"><svg class="one" style="left:117.9px;top:7.7px" width="14" height="31" viewBox="0 0 14 31"><path d="M2.8,9.2 L10.7,5 L10.7,27.3" fill="none" stroke="#fff" stroke-width="5.4" stroke-linecap="round" stroke-linejoin="round"/></svg><span class="c" style="left:198.3px;transform:scaleX(0.982)">Valencia</span></div>
<div class="r w" style="top:1130.4px"><span class="n" style="left:116.7px;transform:scaleX(1.175)">2</span><span class="c" style="left:196.8px;transform:scaleX(1.003)">Málaga</span></div>
<div class="r w" style="top:1178.3px"><span class="n" style="left:117.7px;transform:scaleX(1.103)">3</span><span class="c" style="left:198.3px;transform:scaleX(1.036)">Alicante</span></div>
<div class="r w" style="top:1226.2px"><span class="n" style="left:118.1px;transform:scaleX(1.129)">4</span><span class="c" style="left:196.8px;transform:scaleX(1.020)">Panama City</span></div>
<div class="r w" style="top:1274.1px"><span class="n" style="left:117.3px;transform:scaleX(1.042)">5</span><span class="c" style="left:196.7px;transform:scaleX(1.038)">Mexico City</span></div>
<div class="r w" style="top:1322.0px"><span class="n" style="left:116.7px;transform:scaleX(1.177)">6</span><span class="c" style="left:196.7px;transform:scaleX(1.027)">Ras Al Khaimah</span></div>
<div class="r w" style="top:1369.9px"><span class="n" style="left:117.0px;transform:scaleX(1.032)">7</span><span class="c" style="left:196.7px;transform:scaleX(1.055)">Madrid</span></div>
<div class="r w" style="top:1417.8px"><span class="n" style="left:117.2px;transform:scaleX(1.147)">8</span><span class="c" style="left:196.8px;transform:scaleX(1.010)">Bangkok</span></div>
<div class="r w" style="top:1465.7px"><span class="n" style="left:117.1px;transform:scaleX(1.171)">9</span><span class="c" style="left:198.3px;transform:scaleX(1.044)">Abu Dhabi</span></div>
<div class="r w" style="top:1513.6px"><svg class="one" style="left:117.9px;top:7.7px" width="14" height="31" viewBox="0 0 14 31"><path d="M2.8,9.2 L10.7,5 L10.7,27.3" fill="none" stroke="#fff" stroke-width="5.4" stroke-linecap="round" stroke-linejoin="round"/></svg><span class="n" style="left:133.5px;transform:scaleX(1.165)">0</span><span class="c" style="left:196.8px;transform:scaleX(1.022)">Dubai</span></div>
<div class="r d" style="top:1608.1px"><svg class="one" style="left:117.8px;top:7.7px" width="14" height="31" viewBox="0 0 14 31"><path d="M2.3,8.8 L10.7,4.55 L10.7,27.85" fill="none" stroke="#0f2f46" stroke-width="4.3" stroke-linecap="round" stroke-linejoin="round"/></svg><svg class="one" style="left:132.7px;top:7.7px" width="14" height="31" viewBox="0 0 14 31"><path d="M2.3,8.8 L10.7,4.55 L10.7,27.85" fill="none" stroke="#0f2f46" stroke-width="4.3" stroke-linecap="round" stroke-linejoin="round"/></svg><span class="c" style="left:196.8px;transform:scaleX(1.008)">Riyadh</span></div>
<div class="r d" style="top:1655.9px"><svg class="one" style="left:117.8px;top:7.7px" width="14" height="31" viewBox="0 0 14 31"><path d="M2.3,8.8 L10.7,4.55 L10.7,27.85" fill="none" stroke="#0f2f46" stroke-width="4.3" stroke-linecap="round" stroke-linejoin="round"/></svg><span class="n" style="left:133.2px;transform:scaleX(1.213)">2</span><span class="c" style="left:196.7px;transform:scaleX(1.034)">Muscat</span></div>
<div class="r d" style="top:1703.8px"><svg class="one" style="left:117.8px;top:7.7px" width="14" height="31" viewBox="0 0 14 31"><path d="M2.3,8.8 L10.7,4.55 L10.7,27.85" fill="none" stroke="#0f2f46" stroke-width="4.3" stroke-linecap="round" stroke-linejoin="round"/></svg><span class="n" style="left:134.2px;transform:scaleX(1.139)">3</span><span class="c" style="left:196.7px;transform:scaleX(1.045)">Nairobi</span></div>
<div class="r d" style="top:1751.7px"><svg class="one" style="left:117.8px;top:7.7px" width="14" height="31" viewBox="0 0 14 31"><path d="M2.3,8.8 L10.7,4.55 L10.7,27.85" fill="none" stroke="#0f2f46" stroke-width="4.3" stroke-linecap="round" stroke-linejoin="round"/></svg><span class="n" style="left:134.7px;transform:scaleX(1.164)">4</span><span class="c" style="left:196.7px;transform:scaleX(1.037)">Melbourne</span></div>
<div class="r d" style="top:1799.6px"><svg class="one" style="left:117.8px;top:7.7px" width="14" height="31" viewBox="0 0 14 31"><path d="M2.3,8.8 L10.7,4.55 L10.7,27.85" fill="none" stroke="#0f2f46" stroke-width="4.3" stroke-linecap="round" stroke-linejoin="round"/></svg><span class="n" style="left:133.9px;transform:scaleX(1.078)">5</span><span class="c" style="left:198.3px;transform:scaleX(0.992)">Vienna</span></div>
<div class="r d" style="top:1847.4px"><svg class="one" style="left:117.8px;top:7.7px" width="14" height="31" viewBox="0 0 14 31"><path d="M2.3,8.8 L10.7,4.55 L10.7,27.85" fill="none" stroke="#0f2f46" stroke-width="4.3" stroke-linecap="round" stroke-linejoin="round"/></svg><span class="n" style="left:133.2px;transform:scaleX(1.214)">6</span><span class="c" style="left:196.9px;transform:scaleX(0.973)">Doha</span></div>
<div class="r d" style="top:1895.3px"><svg class="one" style="left:117.8px;top:7.7px" width="14" height="31" viewBox="0 0 14 31"><path d="M2.3,8.8 L10.7,4.55 L10.7,27.85" fill="none" stroke="#0f2f46" stroke-width="4.3" stroke-linecap="round" stroke-linejoin="round"/></svg><span class="n" style="left:133.5px;transform:scaleX(1.070)">7</span><span class="c" style="left:197.9px;transform:scaleX(1.057)">Jeddah</span></div>
<div class="r d" style="top:1943.2px"><svg class="one" style="left:117.8px;top:7.7px" width="14" height="31" viewBox="0 0 14 31"><path d="M2.3,8.8 L10.7,4.55 L10.7,27.85" fill="none" stroke="#0f2f46" stroke-width="4.3" stroke-linecap="round" stroke-linejoin="round"/></svg><span class="n" style="left:133.7px;transform:scaleX(1.184)">8</span><span class="c" style="left:196.8px;transform:scaleX(0.998)">Brussels</span></div>
<div class="r d" style="top:1991.0px"><svg class="one" style="left:117.8px;top:7.7px" width="14" height="31" viewBox="0 0 14 31"><path d="M2.3,8.8 L10.7,4.55 L10.7,27.85" fill="none" stroke="#0f2f46" stroke-width="4.3" stroke-linecap="round" stroke-linejoin="round"/></svg><span class="n" style="left:133.7px;transform:scaleX(1.209)">9</span><span class="c" style="left:197.8px;transform:scaleX(0.974)">Sydney</span></div>
<div class="r d" style="top:2038.9px"><span class="n" style="left:116.6px;transform:scaleX(1.213)">2</span><span class="n" style="left:144.6px;transform:scaleX(1.201)">0</span><span class="c" style="left:198.3px;transform:scaleX(0.971)">Warsaw</span></div>
<div class="r d" style="top:2086.8px"><span class="n" style="left:116.6px;transform:scaleX(1.213)">2</span><svg class="one" style="left:143.0px;top:7.7px" width="14" height="31" viewBox="0 0 14 31"><path d="M2.3,8.8 L10.7,4.55 L10.7,27.85" fill="none" stroke="#0f2f46" stroke-width="4.3" stroke-linecap="round" stroke-linejoin="round"/></svg><span class="c" style="left:196.8px;transform:scaleX(0.999)">Barcelona</span></div>
<div class="r d" style="top:2134.6px"><span class="n" style="left:116.6px;transform:scaleX(1.213)">2</span><span class="n" style="left:143.6px;transform:scaleX(1.213)">2</span><span class="c" style="left:196.7px;transform:scaleX(1.044)">Hong Kong</span></div>
<div class="r d" style="top:2182.5px"><span class="n" style="left:116.6px;transform:scaleX(1.213)">2</span><span class="n" style="left:144.6px;transform:scaleX(1.139)">3</span><span class="c" style="left:197.3px;transform:scaleX(1.024)">Copenhagen</span></div>
<div class="r d" style="top:2230.4px"><span class="n" style="left:116.6px;transform:scaleX(1.213)">2</span><span class="n" style="left:145.1px;transform:scaleX(1.164)">4</span><span class="c" style="left:196.7px;transform:scaleX(1.038)">Kuala Lumpur</span></div>
<div class="r d" style="top:2278.3px"><span class="n" style="left:116.6px;transform:scaleX(1.213)">2</span><span class="n" style="left:144.3px;transform:scaleX(1.078)">5</span><span class="c" style="left:197.5px;transform:scaleX(0.977)">Tokyo</span></div>
<div class="r d" style="top:2326.1px"><span class="n" style="left:116.6px;transform:scaleX(1.213)">2</span><span class="n" style="left:143.6px;transform:scaleX(1.214)">6</span><span class="c" style="left:198.3px;transform:scaleX(1.049)">Amsterdam</span></div>
<div class="r d" style="top:1082.5px"><span class="n" style="left:687.6px;transform:scaleX(1.213)">2</span><span class="n" style="left:714.9px;transform:scaleX(1.070)">7</span><span class="c" style="left:783.9px;transform:scaleX(1.024)">Singapore</span></div>
<div class="r d" style="top:1130.4px"><span class="n" style="left:687.6px;transform:scaleX(1.213)">2</span><span class="n" style="left:715.1px;transform:scaleX(1.184)">8</span><span class="c" style="left:782.8px;transform:scaleX(1.008)">New York City</span></div>
<div class="r d" style="top:1178.3px"><span class="n" style="left:687.6px;transform:scaleX(1.213)">2</span><span class="n" style="left:715.1px;transform:scaleX(1.209)">9</span><span class="c" style="left:782.6px;transform:scaleX(1.060)">Lisbon</span></div>
<div class="r d" style="top:1226.2px"><span class="n" style="left:688.6px;transform:scaleX(1.139)">3</span><span class="n" style="left:715.6px;transform:scaleX(1.201)">0</span><span class="c" style="left:784.4px;transform:scaleX(1.026)">The Hague</span></div>
<div class="r d" style="top:1274.1px"><span class="n" style="left:688.6px;transform:scaleX(1.139)">3</span><svg class="one" style="left:714.1px;top:7.7px" width="14" height="31" viewBox="0 0 14 31"><path d="M2.3,8.8 L10.7,4.55 L10.7,27.85" fill="none" stroke="#0f2f46" stroke-width="4.3" stroke-linecap="round" stroke-linejoin="round"/></svg><span class="c" style="left:783.9px;transform:scaleX(1.058)">Zurich</span></div>
<div class="r d" style="top:1322.0px"><span class="n" style="left:688.6px;transform:scaleX(1.139)">3</span><span class="n" style="left:714.6px;transform:scaleX(1.213)">2</span><span class="c" style="left:785.2px;transform:scaleX(1.043)">Auckland</span></div>
<div class="r d" style="top:1369.9px"><span class="n" style="left:688.6px;transform:scaleX(1.139)">3</span><span class="n" style="left:715.6px;transform:scaleX(1.139)">3</span><span class="c" style="left:782.7px;transform:scaleX(1.051)">Luxembourg City</span></div>
<div class="r d" style="top:1417.8px"><span class="n" style="left:688.6px;transform:scaleX(1.139)">3</span><span class="n" style="left:716.1px;transform:scaleX(1.164)">4</span><span class="c" style="left:782.8px;transform:scaleX(1.006)">Basel</span></div>
<div class="r d" style="top:1465.7px"><span class="n" style="left:688.6px;transform:scaleX(1.139)">3</span><span class="n" style="left:715.3px;transform:scaleX(1.078)">5</span><span class="c" style="left:783.6px;transform:scaleX(0.968)">Geneva</span></div>
<div class="r d" style="top:1513.6px"><span class="n" style="left:688.6px;transform:scaleX(1.139)">3</span><span class="n" style="left:714.6px;transform:scaleX(1.214)">6</span><span class="c" style="left:782.8px;transform:scaleX(1.024)">Prague</span></div>
<div class="r d" style="top:1561.5px"><span class="n" style="left:688.6px;transform:scaleX(1.139)">3</span><span class="n" style="left:714.9px;transform:scaleX(1.070)">7</span><span class="c" style="left:782.6px;transform:scaleX(1.067)">Dublin</span></div>
<div class="r d" style="top:1609.4px"><span class="n" style="left:688.6px;transform:scaleX(1.139)">3</span><span class="n" style="left:715.1px;transform:scaleX(1.184)">8</span><span class="c" style="left:782.7px;transform:scaleX(1.035)">Budapest</span></div>
<div class="r d" style="top:1657.3px"><span class="n" style="left:688.6px;transform:scaleX(1.139)">3</span><span class="n" style="left:715.1px;transform:scaleX(1.209)">9</span><span class="c" style="left:783.8px;transform:scaleX(1.054)">Stockholm</span></div>
<div class="r d" style="top:1705.2px"><span class="n" style="left:689.7px;transform:scaleX(1.164)">4</span><span class="n" style="left:717.6px;transform:scaleX(1.201)">0</span><span class="c" style="left:782.7px;transform:scaleX(1.057)">London</span></div>
<div class="r d" style="top:1753.1px"><span class="n" style="left:689.7px;transform:scaleX(1.164)">4</span><svg class="one" style="left:716.1px;top:7.7px" width="14" height="31" viewBox="0 0 14 31"><path d="M2.3,8.8 L10.7,4.55 L10.7,27.85" fill="none" stroke="#0f2f46" stroke-width="4.3" stroke-linecap="round" stroke-linejoin="round"/></svg><span class="c" style="left:782.7px;transform:scaleX(1.035)">Dusseldorf</span></div>
<div class="r d" style="top:1801.0px"><span class="n" style="left:689.7px;transform:scaleX(1.164)">4</span><span class="n" style="left:716.6px;transform:scaleX(1.213)">2</span><span class="c" style="left:783.9px;transform:scaleX(1.016)">Oslo</span></div>
<div class="r d" style="top:1848.9px"><span class="n" style="left:689.7px;transform:scaleX(1.164)">4</span><span class="n" style="left:717.6px;transform:scaleX(1.139)">3</span><span class="c" style="left:782.8px;transform:scaleX(1.016)">Paris</span></div>
<div class="r w" style="top:1929.5px"><span class="n" style="left:689.7px;transform:scaleX(1.129)">4</span><span class="n" style="left:717.4px;transform:scaleX(1.129)">4</span><span class="c" style="left:782.7px;transform:scaleX(1.029)">Rome</span></div>
<div class="r w" style="top:1977.3px"><span class="n" style="left:689.7px;transform:scaleX(1.129)">4</span><span class="n" style="left:716.7px;transform:scaleX(1.042)">5</span><span class="c" style="left:782.7px;transform:scaleX(1.038)">Frankfurt</span></div>
<div class="r w" style="top:2025.1px"><span class="n" style="left:689.7px;transform:scaleX(1.129)">4</span><span class="n" style="left:716.0px;transform:scaleX(1.177)">6</span><span class="c" style="left:782.6px;transform:scaleX(1.064)">Berlin</span></div>
<div class="r w" style="top:2072.9px"><span class="n" style="left:689.7px;transform:scaleX(1.129)">4</span><span class="n" style="left:716.3px;transform:scaleX(1.032)">7</span><span class="c" style="left:782.6px;transform:scaleX(1.062)">Milan</span></div>
<div class="r w" style="top:2120.7px"><span class="n" style="left:689.7px;transform:scaleX(1.129)">4</span><span class="n" style="left:716.5px;transform:scaleX(1.147)">8</span><span class="c" style="left:783.5px;transform:scaleX(1.025)">Cologne</span></div>
<div class="r w" style="top:2168.5px"><span class="n" style="left:689.7px;transform:scaleX(1.129)">4</span><span class="n" style="left:716.4px;transform:scaleX(1.171)">9</span><span class="c" style="left:782.2px;transform:scaleX(1.055)">Istanbul</span></div>
<div class="r w" style="top:2216.3px"><span class="n" style="left:690.0px;transform:scaleX(1.042)">5</span><span class="n" style="left:714.9px;transform:scaleX(1.165)">0</span><span class="c" style="left:782.6px;transform:scaleX(1.070)">Munich</span></div>
<div class="r w" style="top:2264.1px"><span class="n" style="left:690.0px;transform:scaleX(1.042)">5</span><svg class="one" style="left:713.4px;top:7.7px" width="14" height="31" viewBox="0 0 14 31"><path d="M2.8,9.2 L10.7,5 L10.7,27.3" fill="none" stroke="#fff" stroke-width="5.4" stroke-linecap="round" stroke-linejoin="round"/></svg><span class="c" style="left:784.4px;transform:scaleX(1.023)">Toronto</span></div>
<div class="r w" style="top:2311.9px"><span class="n" style="left:690.0px;transform:scaleX(1.042)">5</span><span class="n" style="left:714.0px;transform:scaleX(1.175)">2</span><span class="c" style="left:782.6px;transform:scaleX(1.062)">Hamburg</span></div>
<div class="r w" style="top:2359.7px"><span class="n" style="left:690.0px;transform:scaleX(1.042)">5</span><span class="n" style="left:715.0px;transform:scaleX(1.103)">3</span><span class="c" style="left:785.2px;transform:scaleX(0.999)">Vancouver</span></div>
</body></html>
